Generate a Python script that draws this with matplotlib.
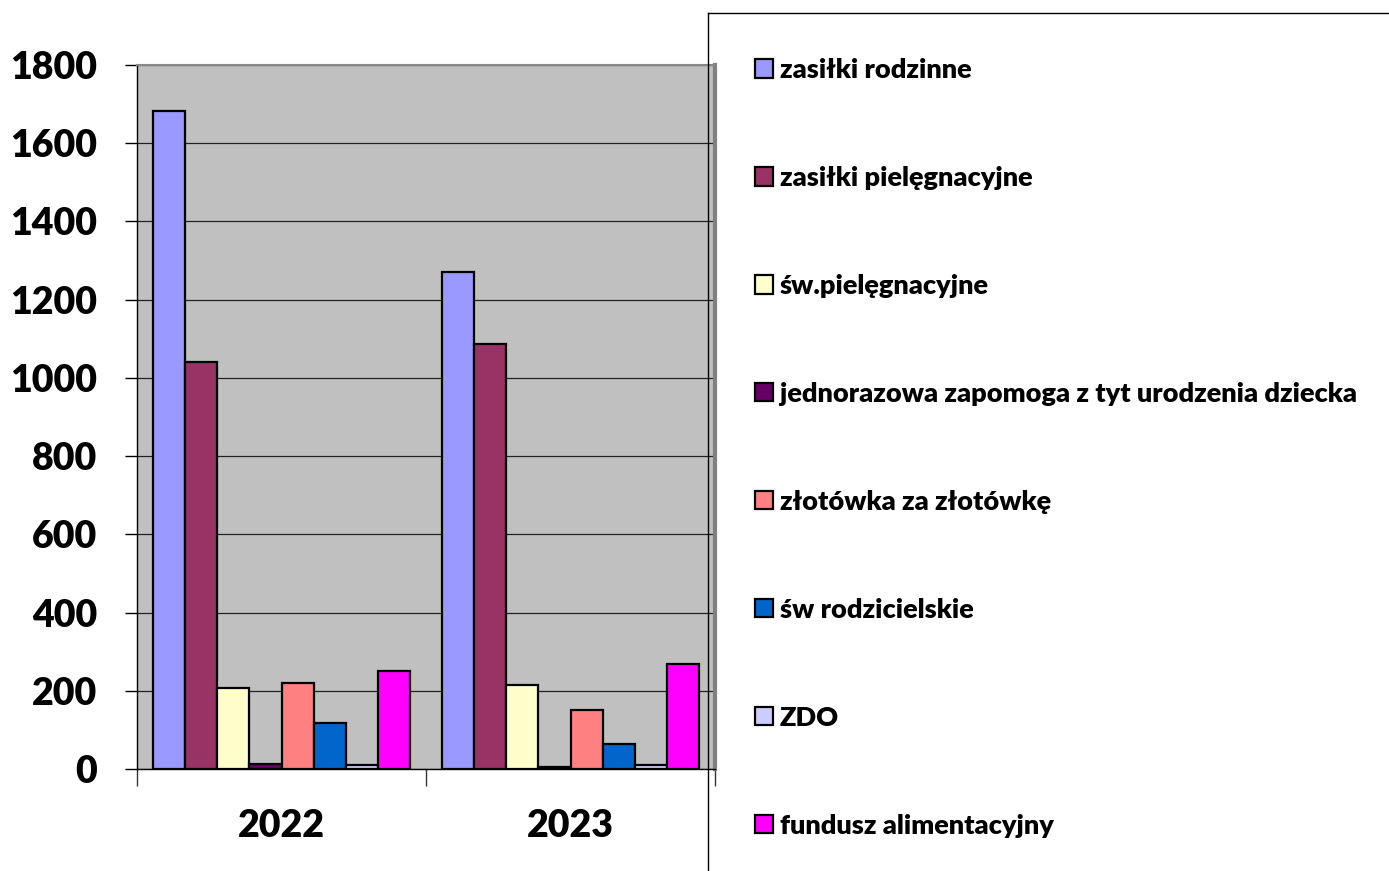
import numpy as np
import matplotlib.pyplot as plt
from matplotlib.lines import Line2D

years = ['2022', '2023']
series = ['zasiłki rodzinne', 'zasiłki pielęgnacyjne', 'św.pielęgnacyjne',
          'jednorazowa zapomoga z tyt urodzenia dziecka', 'złotówka za złotówkę',
          'św rodzicielskie', 'ZDO', 'fundusz alimentacyjny']
values_2022 = [1683, 1041, 207, 12, 220, 118, 11, 250]
values_2023 = [1271, 1087, 215, 6, 151, 64, 10, 268]
colors = ['#9999FF', '#993366', '#FFFFCC', '#660066', '#FF8080',
          '#0066CC', '#CCCCFF', '#FF00FF']

plt.rcParams['font.family'] = ['Lato', 'DejaVu Sans']
plt.rcParams['font.weight'] = 'heavy'

fig = plt.figure(figsize=(13.89, 8.71), dpi=100)
ax = fig.add_axes([137 / 1389, 1 - 769 / 871, (715 - 137) / 1389, (769 - 65) / 871])
ax.set_facecolor('#C0C0C0')

data = np.array([values_2022, values_2023])
x = np.arange(len(years))
w = 0.111
handles = []
for i, name in enumerate(series):
    b = ax.bar(x - 4 * w + (i + 0.5) * w, data[:, i], w, color=colors[i],
               edgecolor='black', linewidth=1.6, label=name, zorder=3)
    handles.append(b)

ax.set_xlim(-0.5, 1.5)
ax.set_ylim(0, 1800)
ax.set_yticks(range(0, 1801, 200))
ax.yaxis.grid(True, color='#222222', linewidth=0.9, zorder=1)
ax.set_xticks(x)
ax.set_xticklabels(years)
ax.set_xticks([-0.5, 0.5, 1.5], minor=True)
ax.tick_params(axis='x', which='major', length=0, pad=29, labelsize=27)
ax.tick_params(axis='x', which='minor', length=12, width=1, color='#333333')
ax.tick_params(axis='y', length=9, width=1, pad=19.5, labelsize=27)

ax.spines['top'].set_color('#888888')
ax.spines['top'].set_linewidth(1.5)
ax.spines['right'].set_color('#808080')
ax.spines['right'].set_linewidth(3)
ax.spines['left'].set_linewidth(1)
ax.spines['bottom'].set_linewidth(1)

# legend box border (only left and top edges are on the canvas)
fig.add_artist(Line2D([708 / 1389, 708 / 1389], [0, 1 - 13 / 871], color='black', lw=1))
fig.add_artist(Line2D([708 / 1389, 1], [1 - 13 / 871, 1 - 13 / 871], color='black', lw=1))

fig.legend(handles=handles, loc='upper left',
           bbox_to_anchor=(755 / 1389, 1 - 58 / 871),
           frameon=False, fontsize=19.5, labelspacing=3.1,
           handlelength=0.66, handleheight=0.66, handletextpad=0.25,
           borderpad=0, borderaxespad=0)

fig.savefig('out.png', dpi=100)
